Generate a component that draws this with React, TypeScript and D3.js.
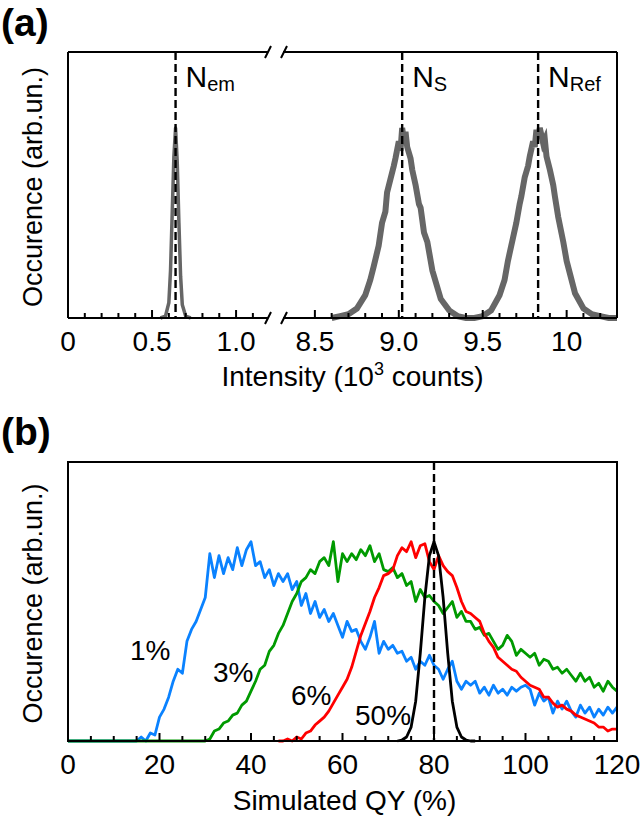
import React from 'react'
import * as d3 from 'd3'

// (a) intensity histograms, x in 10^3 counts, occurence normalised to peak
const emIntensity = [0.55, 0.58, 0.6, 0.61, 0.62, 0.63, 0.64, 0.65, 0.66, 0.67, 0.68, 0.7, 0.73]
const emCount = [0, 0.01, 0.08, 0.25, 0.55, 0.85, 1.0, 0.82, 0.5, 0.22, 0.07, 0.01, 0]

const srIntensity = [
  8.6, 8.65, 8.7, 8.75, 8.8, 8.83, 8.85, 8.88, 8.9, 8.92, 8.93, 8.95, 8.97, 8.98, 9.0, 9.01, 9.02, 9.03, 9.04,
  9.05, 9.07, 9.08, 9.1, 9.12, 9.13, 9.15, 9.17, 9.2, 9.25, 9.3, 9.35, 9.4, 9.45, 9.5, 9.55, 9.6, 9.63, 9.65,
  9.68, 9.7, 9.72, 9.73, 9.75, 9.77, 9.78, 9.8, 9.81, 9.82, 9.83, 9.84, 9.86, 9.87, 9.88, 9.9, 9.92, 9.93,
  9.95, 9.98, 10.0, 10.05, 10.1, 10.15, 10.2, 10.25, 10.3,
]
const srCount = [
  0, 0.01, 0.02, 0.05, 0.12, 0.2, 0.27, 0.38, 0.5, 0.56, 0.66, 0.73, 0.8, 0.84, 0.93, 0.88, 1.0, 0.94, 0.98,
  0.9, 0.84, 0.78, 0.7, 0.6, 0.58, 0.45, 0.4, 0.25, 0.1, 0.04, 0.01, 0, 0, 0.01, 0.04, 0.12, 0.2, 0.3,
  0.42, 0.5, 0.6, 0.64, 0.74, 0.8, 0.85, 0.93, 0.9, 0.99, 0.95, 1.0, 0.92, 0.94, 0.85, 0.78, 0.7, 0.64,
  0.53, 0.4, 0.3, 0.13, 0.05, 0.02, 0.01, 0, 0,
]

const markers = [
  { name: 'N', sub: 'em', value: 0.64 },
  { name: 'N', sub: 'S', value: 9.02 },
  { name: 'N', sub: 'Ref', value: 9.83 },
]
const leftTicks = [0, 0.1, 0.2, 0.3, 0.4, 0.5, 0.6, 0.7, 0.8, 0.9, 1.0, 1.1]
const rightTicks = [8.5, 8.6, 8.7, 8.8, 8.9, 9.0, 9.1, 9.2, 9.3, 9.4, 9.5, 9.6, 9.7, 9.8, 9.9, 10.0, 10.1, 10.2]
const leftLabels = [0, 0.5, 1.0]
const rightLabels = [8.5, 9.0, 9.5, 10]

// (b) simulated QY histograms, one bin per 1 %
const blueStart = 0
const blue = [
  0, 0, 0, 0, 0, 0, 0, 0, 0, 0, 0, 0, 0, 0, 0, 0, 0.02, 0, 0.04, 0.03,
  0.12, 0.16, 0.22, 0.3, 0.36, 0.34, 0.5, 0.56, 0.6, 0.66, 0.72, 0.94, 0.82, 0.93, 0.84, 0.92, 0.86, 0.97, 0.88, 0.96,
  1.0, 0.88, 0.9, 0.82, 0.86, 0.78, 0.84, 0.8, 0.84, 0.76, 0.8, 0.68, 0.74, 0.64, 0.7, 0.62, 0.66, 0.6, 0.64, 0.58,
  0.52, 0.6, 0.55, 0.56, 0.5, 0.46, 0.52, 0.6, 0.44, 0.5, 0.46, 0.48, 0.44, 0.45, 0.4, 0.42, 0.36, 0.4, 0.38, 0.43,
  0.38, 0.36, 0.31, 0.36, 0.4, 0.3, 0.26, 0.3, 0.28, 0.3, 0.24, 0.27, 0.23, 0.28, 0.24, 0.26, 0.23, 0.27, 0.25, 0.27,
  0.28, 0.26, 0.18, 0.24, 0.2, 0.22, 0.14, 0.2, 0.16, 0.2, 0.15, 0.12, 0.18, 0.14, 0.17, 0.12, 0.16, 0.13, 0.17, 0.14,
  0.17,
]
const greenStart = 0
const green = [
  0, 0, 0, 0, 0, 0, 0, 0, 0, 0, 0, 0, 0, 0, 0, 0, 0, 0, 0, 0,
  0, 0, 0, 0, 0, 0, 0, 0, 0, 0, 0, 0.01, 0.05, 0.06, 0.09, 0.1, 0.13, 0.14, 0.18, 0.2,
  0.25, 0.3, 0.36, 0.38, 0.45, 0.48, 0.54, 0.58, 0.64, 0.7, 0.74, 0.8, 0.82, 0.86, 0.84, 0.9, 0.92, 0.88, 1.0, 0.8,
  0.94, 0.9, 0.94, 0.91, 0.96, 0.93, 0.98, 0.9, 0.94, 0.86, 0.85, 0.87, 0.82, 0.84, 0.78, 0.8, 0.7, 0.76, 0.72, 0.73,
  0.7, 0.68, 0.64, 0.67, 0.7, 0.62, 0.65, 0.6, 0.6, 0.56, 0.57, 0.53, 0.54, 0.5, 0.46, 0.48, 0.53, 0.5, 0.43, 0.46,
  0.44, 0.42, 0.44, 0.38, 0.41, 0.4, 0.36, 0.37, 0.34, 0.36, 0.33, 0.3, 0.34, 0.3, 0.32, 0.27, 0.29, 0.25, 0.3, 0.27,
  0.25,
]
const redStart = 46
const red = [
  0, 0, 0.01, 0, 0.02, 0.01, 0.04, 0.05, 0.08, 0.1, 0.12, 0.15, 0.19, 0.23,
  0.27, 0.31, 0.37, 0.45, 0.53, 0.59, 0.65, 0.72, 0.77, 0.83, 0.84, 0.86, 0.93, 0.97, 0.95, 1.0, 0.92, 0.98, 0.99, 0.9,
  0.86, 0.93, 0.88, 0.85, 0.83, 0.77, 0.7, 0.65, 0.64, 0.62, 0.6, 0.54, 0.5, 0.47, 0.42, 0.4, 0.38, 0.36, 0.35, 0.32,
  0.3, 0.28, 0.27, 0.26, 0.22, 0.22, 0.19, 0.17, 0.18, 0.16, 0.15, 0.13, 0.12, 0.11, 0.1, 0.09, 0.07, 0.07, 0.05, 0.06,
  0.06,
]
const blackStart = 72
const black = [0, 0.005, 0.02, 0.07, 0.2, 0.44, 0.72, 0.93, 1.0, 0.93, 0.72, 0.44, 0.2, 0.07, 0.02, 0.005, 0, 0]

const qyTrue = 80
const qyTicks = [0, 5, 10, 15, 20, 25, 30, 35, 40, 45, 50, 55, 60, 65, 70, 75, 80, 85, 90, 95, 100, 105, 110, 115]
const qyLabels = [0, 20, 40, 60, 80, 100, 120]

const series = [
  { label: '1%', start: blueStart, values: blue, color: '#0a82ff', lx: 130, ly: 660 },
  { label: '3%', start: greenStart, values: green, color: '#009a00', lx: 213, ly: 682 },
  { label: '6%', start: redStart, values: red, color: '#ff0000', lx: 291, ly: 705 },
  { label: '50%', start: blackStart, values: black, color: '#000000', lx: 355, ly: 725 },
]

const font = 'Liberation Sans, Arial, Helvetica, sans-serif'

export default function App() {
  const L = 68
  const R = 617
  const breakA = 268
  const breakB = 283

  // (a) broken x axis
  const xLeft = d3.scaleLinear().domain([0, 1.19]).range([L, breakA])
  const xRight = d3.scaleLinear().domain([8.31, 10.3]).range([breakB, R])
  const ya = d3.scaleLinear().domain([0, 1.4]).range([318, 52])
  const aTop = ya(1.4)
  const aBot = ya(0)

  const lineEm = d3.line<number>().x((d, i) => xLeft(emIntensity[i])).y(d => ya(d))
  const lineSR = d3.line<number>().x((d, i) => xRight(srIntensity[i])).y(d => ya(d))
  const xOf = (v: number) => (v < 5 ? xLeft(v) : xRight(v))

  // (b)
  const xb = d3.scaleLinear().domain([0, 120]).range([L, R])
  const yb = d3.scaleLinear().domain([0, 1.4]).range([741, 462])
  const bTop = yb(1.4)
  const bBot = yb(0)

  const slash = (x: number, y: number) => `M${x - 3},${y + 6}L${x + 3},${y - 6}`

  return (
    <svg width={640} height={820} style={{ position: 'absolute', left: 0, top: 0, display: 'block' }}
      fontFamily={font}>
      <rect width={640} height={820} fill="#fff" />

      {/* ---------- (a) ---------- */}
      <text x={1} y={36} fontSize={39} fontWeight="bold">(a)</text>

      <path d={lineEm(emCount) || ''} fill="none" stroke="#666" strokeWidth={3.5} strokeLinejoin="round" />
      <path d={lineSR(srCount) || ''} fill="none" stroke="#666" strokeWidth={6} strokeLinejoin="miter" />

      {markers.map(m => (
        <g key={m.sub}>
          <line x1={xOf(m.value)} x2={xOf(m.value)} y1={aTop} y2={aBot} stroke="#000" strokeWidth={2.4}
            strokeDasharray="8,4" />
          <text x={xOf(m.value) + 10} y={87} fontSize={30}>
            {m.name}
            <tspan fontSize={20} dy={4}>{m.sub}</tspan>
          </text>
        </g>
      ))}

      {/* frame with break */}
      <g stroke="#000" strokeWidth={2} fill="none">
        <line x1={L} x2={L} y1={aTop} y2={aBot} />
        <line x1={R} x2={R} y1={aTop} y2={aBot} />
        <line x1={L} x2={breakA} y1={aTop} y2={aTop} />
        <line x1={breakB} x2={R} y1={aTop} y2={aTop} />
        <line x1={L} x2={breakA} y1={aBot} y2={aBot} />
        <line x1={breakB} x2={R} y1={aBot} y2={aBot} />
        <path d={slash(breakA, aTop) + slash(breakB + 1, aTop) + slash(breakA, aBot) + slash(breakB + 1, aBot)} />
        {leftTicks.map(t => (
          <line key={'l' + t} x1={xLeft(t)} x2={xLeft(t)} y1={aBot} y2={aBot - (leftLabels.includes(t) ? 8 : 5)} />
        ))}
        {rightTicks.map(t => (
          <line key={'r' + t} x1={xRight(t)} x2={xRight(t)} y1={aBot}
            y2={aBot - (rightLabels.some(v => Math.abs(v - t) < 1e-6) ? 8 : 5)} />
        ))}
      </g>
      <g fontSize={28} textAnchor="middle">
        {leftLabels.map(t => (
          <text key={'ll' + t} x={xLeft(t)} y={351}>{t === 0 ? '0' : t.toFixed(1)}</text>
        ))}
        {rightLabels.map(t => (
          <text key={'rl' + t} x={xRight(t)} y={351}>{t === 10 ? '10' : t.toFixed(1)}</text>
        ))}
        <text x={(L + R) / 2 + 10} y={386}>
          Intensity (10<tspan fontSize={18} dy={-11}>3</tspan><tspan dy={11}> counts)</tspan>
        </text>
        <text transform={`translate(42,${(aTop + aBot) / 2 + 2}) rotate(-90)`} fontSize={27}>Occurence (arb.un.)</text>
      </g>

      {/* ---------- (b) ---------- */}
      <text x={1} y={445} fontSize={39} fontWeight="bold">(b)</text>

      {series.map(s => {
        const line = d3.line<number>().x((d, i) => xb(s.start + i)).y(d => yb(d))
        return (
          <g key={s.label}>
            <path d={line(s.values) || ''} fill="none" stroke={s.color} strokeWidth={2.8} strokeLinejoin="round" />
            <text x={s.lx} y={s.ly} fontSize={28}>{s.label}</text>
          </g>
        )
      })}

      <line x1={xb(qyTrue)} x2={xb(qyTrue)} y1={bTop} y2={bBot} stroke="#000" strokeWidth={2.4} strokeDasharray="8,4" />

      <g stroke="#000" strokeWidth={2} fill="none">
        <rect x={L} y={bTop} width={R - L} height={bBot - bTop} />
        {qyTicks.map(t => (
          <line key={'q' + t} x1={xb(t)} x2={xb(t)} y1={bBot} y2={bBot - (t % 20 === 0 ? 8 : 5)} />
        ))}
      </g>
      <g fontSize={28} textAnchor="middle">
        {qyLabels.map(t => (
          <text key={'ql' + t} x={xb(t)} y={774}>{t}</text>
        ))}
        <text x={(L + R) / 2 + 2} y={810}>Simulated QY (%)</text>
        <text transform={`translate(42,${(bTop + bBot) / 2 + 2}) rotate(-90)`} fontSize={27}>Occurence (arb.un.)</text>
      </g>
    </svg>
  )
}
